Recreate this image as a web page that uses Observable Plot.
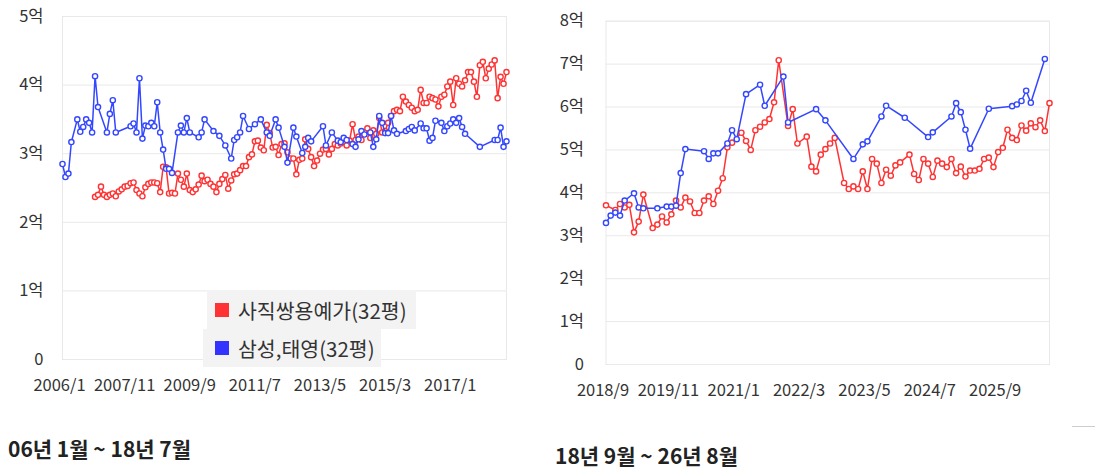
<!DOCTYPE html>
<html><head><meta charset="utf-8">
<script src="https://cdn.jsdelivr.net/npm/d3@7"></script>
<script src="https://cdn.jsdelivr.net/npm/@observablehq/plot@0.6"></script>
<style>
body{margin:0;background:#fff;font-family:"Noto Sans CJK KR","Noto Sans",sans-serif;}
#wrap{position:relative;width:1095px;height:471px;overflow:hidden;background:#fff;}
.chart{position:absolute;top:0;}
.cap{position:absolute;font-size:21px;font-weight:700;color:#222;white-space:nowrap;line-height:24px;letter-spacing:0px;}
.leg{position:absolute;background:#f3f3f3;font-size:20.5px;color:#333;display:flex;align-items:center;white-space:nowrap;box-sizing:border-box;letter-spacing:0px;}
.sw{width:14px;height:14px;margin-right:9px;flex:none;}
#deco{position:absolute;left:1072px;top:426px;width:23px;height:1px;background:#ccc;}
</style></head><body>
<div id="wrap">
  <div id="left" class="chart" style="left:0px"></div>
  <div id="right" class="chart" style="left:540px"></div>
  <div class="leg" style="left:207px;top:290px;width:209px;height:39px;padding-left:8px;"><div class="sw" style="background:#ff3333"></div>사직쌍용예가(32평)</div>
  <div class="leg" style="left:203px;top:329px;width:178px;height:38px;padding-left:12px;"><div class="sw" style="background:#3333ff"></div>삼성,태영(32평)</div>
  <div class="cap" style="left:8px;top:436px;">06년 1월 ~ 18년 7월</div>
  <div class="cap" style="left:555px;top:443px;">18년 9월 ~ 26년 8월</div>
  <div id="deco"></div>
</div>
<script>
const RED = "#ff3333";
const BLUE = "#3347ff";
const seriesNames = ["사직쌍용예가(32평)", "삼성,태영(32평)"];

// ---------- Left chart: 2006/1 ~ 2018/7 ----------
const leftXTicks = ["2006/1","2007/11","2009/9","2011/7","2013/5","2015/3","2017/1"];
const leftYTicks = [0,1,2,3,4,5];
const leftStart = "2006/1", leftEnd = "2018/7";

const leftRedMonths = [
 "2006/12",
 "2007/1","2007/2","2007/3","2007/4","2007/5","2007/6","2007/7","2007/8","2007/9","2007/10","2007/11","2007/12",
 "2008/1","2008/2","2008/3","2008/4","2008/5","2008/6","2008/7","2008/8","2008/9","2008/10","2008/11","2008/12",
 "2009/1","2009/2","2009/3","2009/4","2009/5","2009/6","2009/7","2009/8","2009/9","2009/10","2009/11","2009/12",
 "2010/1","2010/2","2010/3","2010/4","2010/5","2010/6","2010/7","2010/8","2010/9","2010/10","2010/11","2010/12",
 "2011/1","2011/2","2011/3","2011/4","2011/5","2011/6","2011/7","2011/8","2011/9","2011/10","2011/11","2011/12",
 "2012/1","2012/2","2012/3","2012/4","2012/5","2012/6","2012/7","2012/8","2012/9","2012/10","2012/11","2012/12",
 "2013/1","2013/2","2013/3","2013/4","2013/5","2013/6","2013/7","2013/8","2013/9","2013/10","2013/11","2013/12",
 "2014/1","2014/2","2014/3","2014/4","2014/5","2014/6","2014/7","2014/8","2014/9","2014/10","2014/11","2014/12",
 "2015/1","2015/2","2015/3","2015/4","2015/5","2015/6","2015/7","2015/8","2015/9","2015/10","2015/11","2015/12",
 "2016/1","2016/2","2016/3","2016/4","2016/5","2016/6","2016/7","2016/8","2016/9","2016/10","2016/11","2016/12",
 "2017/1","2017/2","2017/3","2017/4","2017/5","2017/6","2017/7","2017/8","2017/9","2017/10","2017/11","2017/12",
 "2018/1","2018/2","2018/3","2018/4","2018/5","2018/6","2018/7"
];
const leftRedValues = [
 2.37,
 2.40,2.52,2.40,2.37,2.40,2.42,2.38,2.45,2.48,2.52,2.53,2.57,
 2.58,2.47,2.42,2.38,2.51,2.56,2.58,2.58,2.57,2.44,2.81,2.80,
 2.42,2.43,2.42,2.71,2.62,2.52,2.71,2.47,2.44,2.48,2.55,2.68,
 2.60,2.62,2.56,2.52,2.44,2.56,2.63,2.69,2.49,2.61,2.70,2.71,
 2.76,2.82,2.82,2.95,2.99,3.18,3.19,3.09,3.05,3.42,3.30,3.09,
 3.10,2.98,3.14,3.15,3.02,2.93,2.93,2.70,2.91,2.93,3.21,3.07,
 2.95,2.82,2.90,3.00,3.06,3.07,2.99,3.07,3.14,3.12,3.15,3.17,
 3.12,3.19,3.43,3.20,3.25,3.20,3.31,3.37,3.23,3.34,3.29,3.52,
 3.31,3.33,3.45,3.55,3.62,3.64,3.62,3.83,3.76,3.71,3.67,3.62,
 3.64,3.93,3.74,3.74,3.83,3.81,3.79,3.69,3.83,3.86,3.98,4.05,
 3.71,4.10,4.02,3.98,4.07,4.19,4.19,4.05,3.83,4.29,4.34,4.10,
 4.24,4.30,4.36,3.81,4.12,4.02,4.19
];
const leftBlueMonths = [
 "2006/1","2006/2","2006/3","2006/4","2006/6","2006/7","2006/8","2006/9","2006/10","2006/11","2006/12",
 "2007/1","2007/4","2007/5","2007/6","2007/7","2007/12",
 "2008/1","2008/2","2008/3","2008/4","2008/5","2008/6","2008/7","2008/8","2008/9","2008/10","2008/11","2008/12",
 "2009/1","2009/2","2009/4","2009/5","2009/6","2009/7","2009/8","2009/11","2009/12",
 "2010/1","2010/4","2010/6","2010/8","2010/10","2010/11","2010/12",
 "2011/1","2011/2","2011/4","2011/6","2011/8","2011/10","2011/11",
 "2012/1","2012/2","2012/4","2012/5","2012/7","2012/8","2012/10","2012/11","2012/12",
 "2013/1","2013/5","2013/6","2013/8","2013/10","2013/11","2013/12",
 "2014/1","2014/3","2014/4","2014/5","2014/6","2014/7","2014/9","2014/10","2014/11","2014/12",
 "2015/1","2015/2","2015/3","2015/4","2015/5","2015/6","2015/9","2015/10","2015/11","2015/12",
 "2016/2","2016/3","2016/4","2016/5","2016/6","2016/7","2016/9","2016/10","2016/11","2016/12",
 "2017/1","2017/2","2017/3","2017/4","2017/5","2017/10",
 "2018/3","2018/4","2018/5","2018/6","2018/7"
];
const leftBlueValues = [
 2.85,2.66,2.71,3.17,3.50,3.32,3.39,3.50,3.45,3.31,4.13,
 3.68,3.31,3.58,3.78,3.31,3.40,
 3.44,3.31,4.10,3.22,3.41,3.40,3.45,3.40,3.75,3.31,3.06,2.78,
 2.78,2.72,3.31,3.41,3.31,3.52,3.31,3.24,3.31,
 3.50,3.33,3.26,3.12,2.93,3.20,3.24,
 3.31,3.55,3.36,3.43,3.50,3.31,3.26,
 3.50,3.38,3.10,2.87,3.38,3.25,3.01,3.10,3.23,
 3.18,3.40,3.12,3.31,3.19,3.17,3.23,
 3.20,3.14,3.10,3.21,3.33,3.28,3.31,3.10,3.21,3.55,
 3.45,3.30,3.30,3.55,3.34,3.29,3.33,3.36,3.39,3.34,
 3.44,3.37,3.37,3.19,3.23,3.48,3.45,3.33,3.40,3.44,
 3.50,3.45,3.52,3.39,3.29,3.10,
 3.20,3.20,3.38,3.10,3.18
];

// ---------- Right chart: 2018/9 ~ 2026/8 ----------
const rightXTicks = ["2018/9","2019/11","2021/1","2022/3","2023/5","2024/7","2025/9"];
const rightYTicks = [0,1,2,3,4,5,6,7,8];
const rightStart = "2018/9", rightEnd = "2026/8";

const rightRedMonths = [
 "2018/9","2018/11","2018/12",
 "2019/1","2019/2","2019/3","2019/4","2019/5","2019/7","2019/8","2019/9","2019/10","2019/11","2019/12",
 "2020/1","2020/2","2020/3","2020/4","2020/5","2020/6","2020/7","2020/8","2020/9","2020/10","2020/11","2020/12",
 "2021/2","2021/3","2021/4","2021/5","2021/6","2021/7","2021/8","2021/9","2021/10","2021/12",
 "2022/1","2022/2","2022/4","2022/5","2022/6","2022/7","2022/8","2022/9","2022/10","2022/12",
 "2023/1","2023/2","2023/3","2023/4","2023/5","2023/6","2023/7","2023/8","2023/9","2023/10","2023/11","2023/12",
 "2024/2","2024/3","2024/4","2024/5","2024/6","2024/7","2024/8","2024/9","2024/10","2024/11","2024/12",
 "2025/1","2025/2","2025/3","2025/4","2025/5","2025/6","2025/7","2025/8","2025/9","2025/10","2025/11","2025/12",
 "2026/1","2026/2","2026/3","2026/4","2026/5","2026/6","2026/7","2026/8"
];
const rightRedValues = [
 3.71,3.60,3.74,
 3.66,3.72,3.08,3.33,3.96,3.18,3.26,3.45,3.31,3.50,3.82,
 3.66,3.89,3.80,3.53,3.53,3.82,3.92,3.74,4.05,4.34,5.06,5.17,
 5.40,5.21,5.00,5.46,5.54,5.64,5.72,6.11,7.09,5.56,
 5.95,5.15,5.31,4.61,4.50,4.89,5.02,5.15,5.28,4.23,
 4.09,4.15,4.09,4.50,4.09,4.79,4.68,4.23,4.54,4.40,4.64,4.71,
 4.89,4.44,4.30,4.79,4.68,4.37,4.75,4.68,4.60,4.79,4.46,
 4.61,4.38,4.52,4.52,4.56,4.79,4.82,4.60,4.95,5.05,5.47,5.28,
 5.23,5.57,5.45,5.62,5.53,5.69,5.44,6.09
];
const rightBlueMonths = [
 "2018/9","2018/10","2018/11","2018/12",
 "2019/1","2019/3","2019/4","2019/5","2019/8","2019/10","2019/11","2019/12",
 "2020/1","2020/2","2020/6","2020/7","2020/8","2020/9","2020/11","2020/12",
 "2021/1","2021/3","2021/6","2021/7","2021/11","2021/12",
 "2022/6","2022/8",
 "2023/2","2023/4","2023/5","2023/8","2023/9",
 "2024/1","2024/6","2024/7","2024/11","2024/12",
 "2025/1","2025/2","2025/3","2025/7","2025/12",
 "2026/1","2026/2","2026/3","2026/4","2026/7"
];
const rightBlueValues = [
 3.30,3.47,3.54,3.47,
 3.82,3.99,3.66,3.64,3.64,3.68,3.68,3.70,
 4.46,5.02,4.97,4.79,4.92,4.92,5.15,5.46,
 5.25,6.30,6.52,6.03,6.71,5.64,
 5.95,5.69,
 4.79,5.13,5.20,5.78,6.03,
 5.75,5.30,5.41,5.78,6.09,
 5.88,5.47,5.03,5.96,6.02,
 6.06,6.14,6.38,6.10,7.12
];

function monthIndex(s, start) {
  const [y, m] = s.split("/").map(Number);
  const [y0, m0] = start.split("/").map(Number);
  return (y - y0) * 12 + (m - m0);
}

function makeChart(o) {
  const red = o.redMonths.map((d, i) => ({x: monthIndex(d, o.start), v: o.redValues[i], s: seriesNames[0]}));
  const blue = o.blueMonths.map((d, i) => ({x: monthIndex(d, o.start), v: o.blueValues[i], s: seriesNames[1]}));
  const tickIdx = o.xTicks.map(t => monthIndex(t, o.start));
  const tickLabel = new Map(o.xTicks.map(t => [monthIndex(t, o.start), t]));
  const font = {fontFamily: "'Noto Sans CJK KR','Noto Sans',sans-serif", fontSize: "16.5px"};
  return Plot.plot({
    width: o.width, height: o.height,
    marginLeft: o.ml, marginRight: o.mr, marginTop: o.mt, marginBottom: o.mb,
    style: {...font, background: "transparent", color: "#444", overflow: "visible"},
    x: {domain: [0, monthIndex(o.end, o.start)], label: null},
    y: {domain: [0, o.yTicks[o.yTicks.length - 1]], label: null},
    marks: [
      Plot.gridY(o.yTicks, {stroke: "#e9e9e9", strokeOpacity: 1, strokeWidth: 1}),
      Plot.frame({stroke: "#e9e9e9", strokeWidth: 1}),
      Plot.line(red, {x: "x", y: "v", stroke: RED, strokeWidth: 1.5}),
      Plot.dot(red, {x: "x", y: "v", r: 2.6, stroke: RED, fill: "white", strokeWidth: 1.4}),
      Plot.line(blue, {x: "x", y: "v", stroke: BLUE, strokeWidth: 1.5}),
      Plot.dot(blue, {x: "x", y: "v", r: 2.6, stroke: BLUE, fill: "white", strokeWidth: 1.4}),
      Plot.axisX(tickIdx, {tickSize: 0, tickPadding: o.xPad, dx: -3, fill: "#333",
        tickFormat: d => tickLabel.get(d), fontSize: 16.5, label: null}),
      Plot.axisY(o.yTicks, {tickSize: 0, tickPadding: o.yPad, fill: "#333",
        tickFormat: d => d === 0 ? "0" : d + "억", fontSize: 16.5, label: null})
    ]
  });
}

document.getElementById("left").append(makeChart({
  redMonths: leftRedMonths, redValues: leftRedValues,
  blueMonths: leftBlueMonths, blueValues: leftBlueValues,
  start: leftStart, end: leftEnd, xTicks: leftXTicks, yTicks: leftYTicks,
  width: 520, height: 400, ml: 62, mr: 14, mt: 16, mb: 41, xPad: 20, yPad: 19
}));
document.getElementById("right").append(makeChart({
  redMonths: rightRedMonths, redValues: rightRedValues,
  blueMonths: rightBlueMonths, blueValues: rightBlueValues,
  start: rightStart, end: rightEnd, xTicks: rightXTicks, yTicks: rightYTicks,
  width: 540, height: 400, ml: 65.5, mr: 31, mt: 20.7, mb: 36, xPad: 20, yPad: 22
}));
</script>
</body></html>
